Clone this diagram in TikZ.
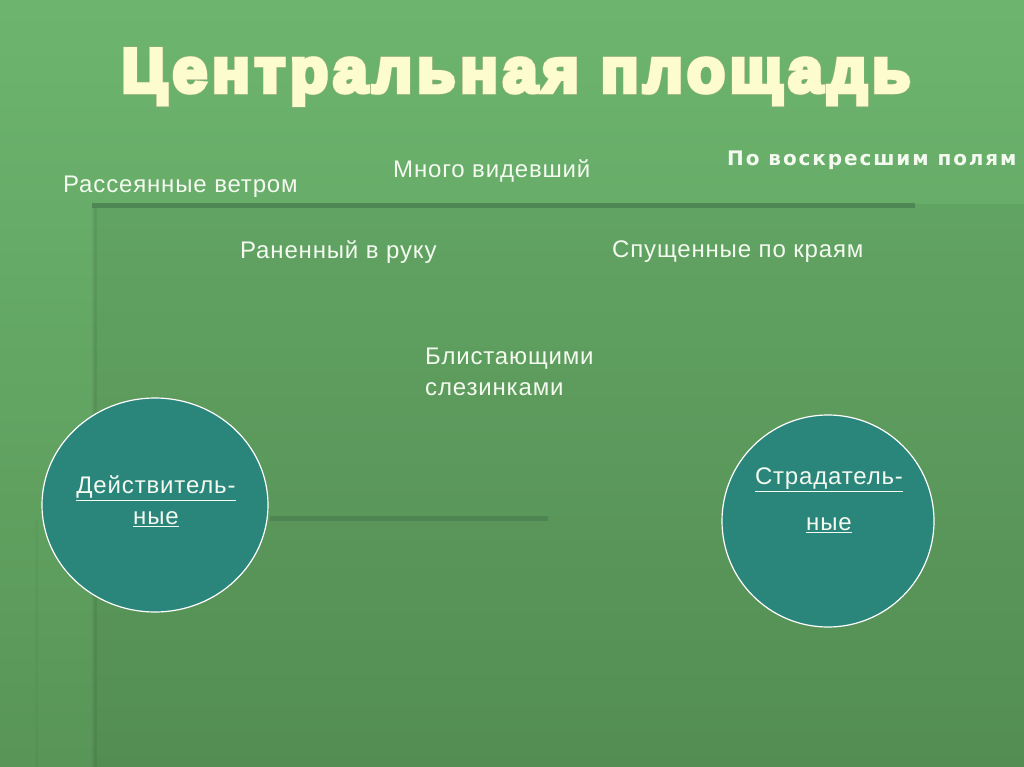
\documentclass[tikz,border=0pt]{standalone}
\usepackage{fontspec}
\usetikzlibrary{shapes.geometric}
\setmainfont{Liberation Sans}[LetterSpace=3.5]
\newfontfamily\headfont[FakeBold=7,LetterSpace=8.2]{Liberation Sans Bold}
\newfontfamily\verdfont[LetterSpace=9.5]{DejaVu Sans Bold}
\definecolor{bgtop}{HTML}{6DB56F}
\definecolor{bgbot}{HTML}{589557}
\definecolor{rulec}{HTML}{4A8050}
\definecolor{tealc}{HTML}{2A857B}
\definecolor{cream}{HTML}{FCFCCF}
\definecolor{rim}{HTML}{A9B58C}
\definecolor{txt}{HTML}{F4FAF0}

\begin{document}
\begin{tikzpicture}
  [x=1pt,y=-1pt,every node/.style={text=txt,font=\fontsize{24}{28}\selectfont,inner sep=0pt},
   disc/.style={ellipse,draw=white,line width=1.2pt,fill=tealc,align=center},
   bar/.style={line width=5pt,draw=rulec,opacity=.8}]
  \useasboundingbox (0,0) rectangle (1024,767);
  \shade[top color=bgtop,bottom color=bgbot] (0,0) rectangle (1024,767);
  \fill[black,opacity=.05] (92,204) rectangle (1024,767);
  \draw[black,opacity=.06,line width=3pt] (95,206) -- (95,767);
  \draw[black,opacity=.025,line width=3pt] (36,520) -- (36,767);

  \coordinate (t1) at (92,206);
  \coordinate (t2) at (915,206);
  \coordinate (m1) at (270,518);
  \coordinate (m2) at (548,518);
  \foreach \from/\to in {t1/t2,m1/m2}
    \draw[bar] (\from) -- (\to);

  \node[text=rim,font=\fontsize{62}{66}\headfont\addfontfeature{FakeBold=8.5}] (titleb) at (516,77) {Центральная площадь};
  \node[text=cream,font=\fontsize{62}{66}\headfont] (title) at (516,77) {Центральная площадь};

  \node[anchor=west] (wind) at (63,187) {Рассеянные ветром};
  \node[anchor=west] (seen) at (393,171) {Много видевший};
  \node[anchor=west,font=\fontsize{20}{22}\verdfont] (field) at (727,160) {По воскресшим полям};
  \node[anchor=west] (hurt) at (240,252) {Раненный в руку};
  \node[anchor=west] (edge) at (612,252) {Спущенные по краям};
  \node[anchor=north west,align=left,font=\fontsize{24}{31}\selectfont] (tear) at (425,348) {Блистающими\\слезинками};

  \node[disc,minimum width=226pt,minimum height=214pt] (act) at (155,505) {};
  \node[disc,minimum width=212pt,minimum height=212pt] (pas) at (828,521) {};
  \node (act1) at (156,488) {\underline{Действитель-}};
  \node (act2) at (156,519) {\underline{ные}};
  \node (pas1) at (829,480) {\underline{Страдатель-}};
  \node (pas2) at (829,525) {\underline{ные}};
\end{tikzpicture}
\end{document}
